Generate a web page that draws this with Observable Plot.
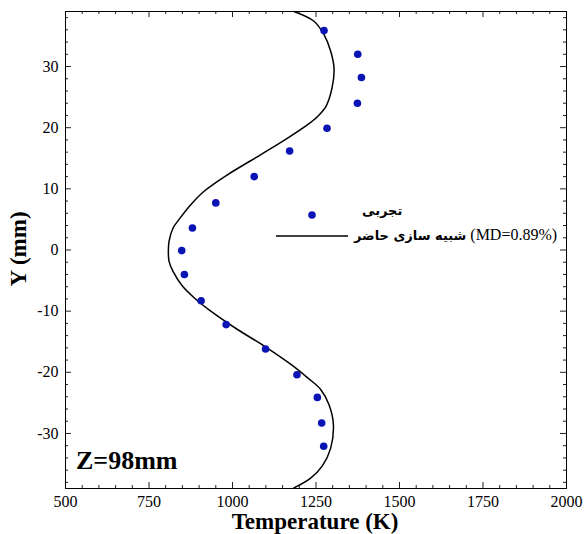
<!DOCTYPE html>
<html><head><meta charset="utf-8">
<script src="https://cdn.jsdelivr.net/npm/d3@7"></script>
<script src="https://cdn.jsdelivr.net/npm/@observablehq/plot@0.6"></script>
<style>
body{margin:0;background:#fff;}
#wrap{position:relative;width:585px;height:534px;}
.lbl{position:absolute;white-space:nowrap;color:#000;}
</style></head>
<body><div id="wrap"></div>
<script>
// Experimental points (Temperature K, Y mm)
const expT = [1274,1375,1386,1374,1283,1171,1065,950,880,848,856,906,981,1099,1193,1254,1267,1273];
const expY = [35.9,32.0,28.2,24.0,19.9,16.2,12.0,7.7,3.6,-0.1,-4.0,-8.3,-12.2,-16.2,-20.4,-24.1,-28.3,-32.1];
// Simulation curve
const simY = [39.0,37.4,35.2,32.5,29.7,26.5,23.5,21.8,20.5,18.3,15.6,12.3,9.6,7.4,5.0,3.6,1.4,-0.1,-1.85,-3.5,-5.9,-7.8,-10.0,-13.0,-15.7,-18.7,-20.9,-22.8,-25.3,-28.5,-32.4,-35.3,-37.3,-38.9];
const simT = [1184,1244,1274,1294,1304,1298,1280,1254,1225,1165,1085,985,915,875,840,822,810,808,810,822,850,885,935,1015,1095,1175,1225,1264,1289,1302,1294,1269,1234,1184];
const xMajor = [500,750,1000,1250,1500,1750,2000];
const yMajor = [-30,-20,-10,0,10,20,30];
const xMinor = d3.range(500,2001,50).filter(v=>v%250!==0);
const yMinor = d3.range(-38,39,2).filter(v=>v%10!==0);
const xLabel = "Temperature (K)";
const yLabel = "Y (mm)";
const panelLabel = "Z=98mm";
const legExp = "تجربی";
const legSimFa = "شبیه سازی حاضر";
const legSimEn = "(MD=0.89%)";

const exp = expT.map((t,i)=>({T:t,Y:expY[i]}));
const sim = simT.map((t,i)=>({T:t,Y:simY[i]}));
const serif = "'Liberation Serif', 'DejaVu Serif', serif";

const W = 585, H = 534, mL = 65, mR = 19, mT = 11, mB = 46;
const fw = W - mL - mR, fh = H - mT - mB;
const tickMarks = [];
const tc = "#222";
for (const [vals, len] of [[xMajor, 6], [xMinor, 3]]) {
  tickMarks.push(Plot.tickX(vals, {x: d=>d, stroke:tc, strokeWidth:1, insetTop: fh - len}));
  tickMarks.push(Plot.tickX(vals, {x: d=>d, stroke:tc, strokeWidth:1, insetBottom: fh - len}));
}
for (const [vals, len] of [[yMajor, 6], [yMinor, 3]]) {
  tickMarks.push(Plot.tickY(vals, {y: d=>d, stroke:tc, strokeWidth:1, insetRight: fw - len}));
  tickMarks.push(Plot.tickY(vals, {y: d=>d, stroke:tc, strokeWidth:1, insetLeft: fw - len}));
}

const chart = Plot.plot({
  width:W, height:H,
  marginLeft:mL, marginRight:mR, marginTop:mT, marginBottom:mB,
  style:{fontFamily:serif, background:"#fff", color:"#000"},
  x:{domain:[500,2000]},
  y:{domain:[-39,39]},
  marks:[
    Plot.axisX({anchor:"bottom", ticks:xMajor, tickSize:0, tickPadding:7, label:null, fontSize:16, tickFormat:d=>String(d)}),
    Plot.axisY({anchor:"left", ticks:yMajor, tickSize:0, tickPadding:7, label:null, fontSize:16, tickFormat:d=>String(d)}),
    ...tickMarks,
    Plot.line(sim, {x:"T", y:"Y", curve:"catmull-rom", stroke:"#000", strokeWidth:1.5}),
    Plot.dot(exp, {x:"T", y:"Y", r:3.8, fill:"#0a14b4", stroke:"none"}),
    Plot.frame({stroke:"#000", strokeWidth:1})
  ]
});
const wrap = document.getElementById("wrap");
wrap.appendChild(chart);

function addLabel(html, css){
  const d = document.createElement("div");
  d.className = "lbl";
  d.innerHTML = html;
  Object.assign(d.style, css);
  wrap.appendChild(d);
  return d;
}
addLabel(xLabel, {left:"315px", top:"510px", lineHeight:"1", transform:"translateX(-50%)", fontFamily:serif, fontWeight:"bold", fontSize:"23px"});
addLabel(yLabel, {left:"18px", top:"249px", lineHeight:"1", transform:"translate(-50%,-50%) rotate(-90deg)", fontFamily:serif, fontWeight:"bold", fontSize:"23px"});
addLabel(panelLabel, {left:"76px", top:"448px", lineHeight:"1", fontFamily:serif, fontWeight:"bold", fontSize:"26px"});
// legend
addLabel(`<svg width="10" height="10"><circle cx="5" cy="5" r="3.8" fill="#0a14b4"/></svg>`, {left:"307px", top:"210px", lineHeight:"0"});
addLabel(legExp, {left:"362px", top:"203px", fontFamily:"'DejaVu Sans', sans-serif", fontWeight:"bold", fontSize:"13px", direction:"rtl"});
addLabel(`<svg width="73" height="4"><line x1="0" x2="72" y1="2" y2="2" stroke="#000" stroke-width="1.5"/></svg>`, {left:"276px", top:"233px", lineHeight:"0"});
addLabel(`<span style="font-family:'DejaVu Sans',sans-serif;font-weight:bold;font-size:13px">${legSimFa}</span> <span style="font-family:${serif};font-size:16px">${legSimEn}</span>`, {left:"354px", top:"226px", direction:"ltr", unicodeBidi:"isolate"});
</script></body></html>
